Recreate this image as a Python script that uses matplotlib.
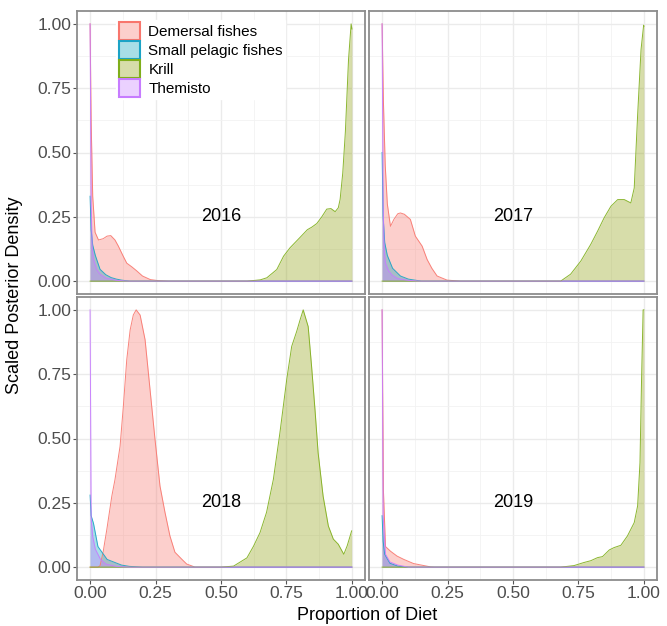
import matplotlib.pyplot as plt
from matplotlib.patches import Patch

plt.rcParams['font.family'] = ['Liberation Sans', 'DejaVu Sans']

# prey groups and colours
groups = ['Demersal fishes', 'Small pelagic fishes', 'Krill', 'Themisto']
edge_cols = ['#F8766D', '#1BA3C6', '#7FAE1A', '#C77CFF']
fill_cols = ['#F8766D', '#06A1BD', '#8D9E0C', '#C77CFF']
years = ['2016', '2017', '2018', '2019']

# scaled density curves (x = proportion of diet)
dem_2016_x = [0, 0.004, 0.01, 0.019, 0.032, 0.05, 0.065, 0.079, 0.095, 0.108, 0.125, 0.14, 0.16, 0.178, 0.2, 0.23, 0.26, 0.3, 1.0]
dem_2016_y = [1.0, 0.62, 0.33, 0.19, 0.16, 0.165, 0.175, 0.177, 0.16, 0.136, 0.1, 0.07, 0.055, 0.04, 0.02, 0.006, 0.002, 0, 0]
sp_2016_x = [0, 0.004, 0.01, 0.02, 0.038, 0.06, 0.08, 0.1, 0.12, 0.15, 1.0]
sp_2016_y = [0.33, 0.2, 0.14, 0.1, 0.046, 0.025, 0.014, 0.008, 0.004, 0, 0]
kr_2016_x = [0, 0.6, 0.65, 0.675, 0.713, 0.739, 0.764, 0.8, 0.83, 0.847, 0.866, 0.885, 0.904, 0.92, 0.936, 0.948, 0.955, 0.965, 0.975, 0.987, 0.997, 1.0]
kr_2016_y = [0, 0, 0.005, 0.013, 0.045, 0.097, 0.13, 0.168, 0.2, 0.21, 0.224, 0.25, 0.28, 0.282, 0.27, 0.285, 0.318, 0.42, 0.58, 0.86, 1.0, 0.98]
th_2016_x = [0, 0.004, 0.008, 0.013, 0.025, 0.038, 0.06, 0.1, 0.15, 1.0]
th_2016_y = [1.0, 0.3, 0.13, 0.085, 0.045, 0.027, 0.012, 0.003, 0, 0]

dem_2017_x = [0, 0.005, 0.012, 0.02, 0.032, 0.045, 0.06, 0.07, 0.085, 0.108, 0.127, 0.153, 0.172, 0.19, 0.21, 0.248, 0.3, 1.0]
dem_2017_y = [1.0, 0.7, 0.45, 0.3, 0.213, 0.24, 0.262, 0.265, 0.26, 0.24, 0.175, 0.136, 0.084, 0.05, 0.02, 0.004, 0, 0]
sp_2017_x = [0, 0.004, 0.01, 0.02, 0.04, 0.07, 0.1, 0.15, 1.0]
sp_2017_y = [0.5, 0.25, 0.15, 0.1, 0.05, 0.02, 0.008, 0, 0]
kr_2017_x = [0, 0.682, 0.72, 0.759, 0.797, 0.823, 0.848, 0.874, 0.9, 0.925, 0.95, 0.963, 0.976, 0.989, 0.999, 1.0]
kr_2017_y = [0, 0, 0.027, 0.078, 0.143, 0.194, 0.246, 0.291, 0.317, 0.317, 0.304, 0.362, 0.645, 0.9, 0.995, 0.99]
th_2017_x = [0, 0.004, 0.008, 0.013, 0.025, 0.04, 0.06, 0.1, 0.15, 1.0]
th_2017_y = [1.0, 0.3, 0.12, 0.07, 0.04, 0.022, 0.01, 0.003, 0, 0]

dem_2018_x = [0, 0.03, 0.038, 0.05, 0.064, 0.083, 0.095, 0.1145, 0.127, 0.14, 0.153, 0.165, 0.176, 0.191, 0.21, 0.229, 0.248, 0.267, 0.286, 0.305, 0.324, 0.35, 0.369, 0.388, 0.4, 1.0]
dem_2018_y = [0, 0, 0.005, 0.06, 0.147, 0.276, 0.34, 0.47, 0.625, 0.806, 0.922, 0.98, 1.0, 0.98, 0.884, 0.69, 0.496, 0.315, 0.213, 0.121, 0.058, 0.031, 0.012, 0.005, 0, 0]
sp_2018_x = [0, 0.004, 0.013, 0.03, 0.065, 0.09, 0.12, 0.15, 0.2, 1.0]
sp_2018_y = [0.28, 0.2, 0.17, 0.08, 0.03, 0.02, 0.008, 0.003, 0, 0]
kr_2018_x = [0, 0.5, 0.548, 0.599, 0.624, 0.649, 0.674, 0.7, 0.725, 0.751, 0.77, 0.789, 0.802, 0.814, 0.833, 0.846, 0.859, 0.871, 0.89, 0.91, 0.929, 0.948, 0.969, 0.982, 0.999]
kr_2018_y = [0, 0, 0.004, 0.036, 0.081, 0.134, 0.213, 0.341, 0.522, 0.729, 0.858, 0.916, 0.961, 1.0, 0.935, 0.78, 0.612, 0.444, 0.276, 0.16, 0.109, 0.089, 0.05, 0.083, 0.141]
th_2018_x = [0, 0.004, 0.01, 0.02, 0.04, 0.06, 0.1, 0.15, 1.0]
th_2018_y = [1.0, 0.19, 0.12, 0.07, 0.03, 0.012, 0.003, 0, 0]

dem_2019_x = [0, 0.005, 0.013, 0.032, 0.057, 0.083, 0.12, 0.16, 0.185, 0.2, 1.0]
dem_2019_y = [1.0, 0.3, 0.08, 0.062, 0.043, 0.03, 0.014, 0.006, 0.001, 0, 0]
sp_2019_x = [0, 0.004, 0.01, 0.03, 0.06, 0.1, 1.0]
sp_2019_y = [0.2, 0.1, 0.05, 0.015, 0.004, 0, 0]
kr_2019_x = [0, 0.682, 0.733, 0.771, 0.797, 0.823, 0.842, 0.868, 0.886, 0.912, 0.937, 0.963, 0.976, 0.985, 0.991, 0.997, 1.0]
kr_2019_y = [0, 0, 0.006, 0.018, 0.025, 0.037, 0.041, 0.067, 0.076, 0.085, 0.121, 0.173, 0.238, 0.406, 0.729, 1.0, 1.0]
th_2019_x = [0, 0.004, 0.013, 0.03, 0.06, 0.1, 1.0]
th_2019_y = [1.0, 0.2, 0.05, 0.02, 0.008, 0, 0]

curves = {
    '2016': [(dem_2016_x, dem_2016_y), (sp_2016_x, sp_2016_y), (kr_2016_x, kr_2016_y), (th_2016_x, th_2016_y)],
    '2017': [(dem_2017_x, dem_2017_y), (sp_2017_x, sp_2017_y), (kr_2017_x, kr_2017_y), (th_2017_x, th_2017_y)],
    '2018': [(dem_2018_x, dem_2018_y), (sp_2018_x, sp_2018_y), (kr_2018_x, kr_2018_y), (th_2018_x, th_2018_y)],
    '2019': [(dem_2019_x, dem_2019_y), (sp_2019_x, sp_2019_y), (kr_2019_x, kr_2019_y), (th_2019_x, th_2019_y)],
}

ticks = [0, 0.25, 0.5, 0.75, 1.0]
tick_labels = ['0.00', '0.25', '0.50', '0.75', '1.00']

W, H = 667, 626
fig = plt.figure(figsize=(W / 100, H / 100), dpi=100)

# panel boxes in pixels: left, top, right, bottom
boxes = [(77, 11, 365, 294), (369, 11, 657, 294), (77, 297, 365, 580), (369, 297, 657, 580)]

axes = []
for i, yr in enumerate(years):
    l, t, r, b = boxes[i]
    ax = fig.add_axes([l / W, (H - b) / H, (r - l) / W, (b - t) / H])
    axes.append(ax)
    ax.set_xlim(-0.05, 1.05)
    ax.set_ylim(-0.05, 1.05)
    ax.set_xticks(ticks)
    ax.set_yticks(ticks)
    ax.set_xticks([0.125, 0.375, 0.625, 0.875], minor=True)
    ax.set_yticks([0.125, 0.375, 0.625, 0.875], minor=True)
    ax.grid(True, which='major', color='#EBEBEB', lw=1.0)
    ax.grid(True, which='minor', color='#F2F2F2', lw=0.6)
    ax.set_axisbelow(True)
    for s in ax.spines.values():
        s.set_color('#8C8C8C')
        s.set_linewidth(1.3)
    ax.tick_params(which='minor', length=0)
    ax.tick_params(which='major', length=3, color='#555555', labelsize=12.5,
                   labelcolor='#4D4D4D', pad=1)
    if i % 2 == 0:
        ax.set_yticklabels(tick_labels)
    else:
        ax.tick_params(axis='y', length=0, labelleft=False)
    if i >= 2:
        ax.set_xticklabels(tick_labels)
    else:
        ax.tick_params(axis='x', length=0, labelbottom=False)

    for k, (xs, ys) in enumerate(curves[yr]):
        ax.fill_between(xs, 0, ys, color=fill_cols[k], alpha=0.35, lw=0)
        ax.plot(xs, ys, color=edge_cols[k], lw=0.7, alpha=0.9)
    ax.text(0.5, 0.25, yr, ha='center', va='center', fontsize=13)

handles = []
for k in range(4):
    handles.append(Patch(facecolor=fill_cols[k] + '59', edgecolor=edge_cols[k], lw=1.5))
leg = axes[0].legend(handles, groups, loc='upper left', bbox_to_anchor=(0.11, 0.995),
                     fontsize=11, frameon=True, fancybox=False, framealpha=1,
                     edgecolor='white', handlelength=1.4, handleheight=1.45,
                     labelspacing=0.05, handletextpad=0.55, borderpad=0.15)

fig.text(15 / W, 1 - 295 / H, 'Scaled Posterior Density', rotation=90,
         ha='center', va='center', fontsize=13)
fig.text(367 / W, 1 - 615 / H, 'Proportion of Diet', ha='center', va='center', fontsize=13)

fig.savefig('out.png', dpi=100)
